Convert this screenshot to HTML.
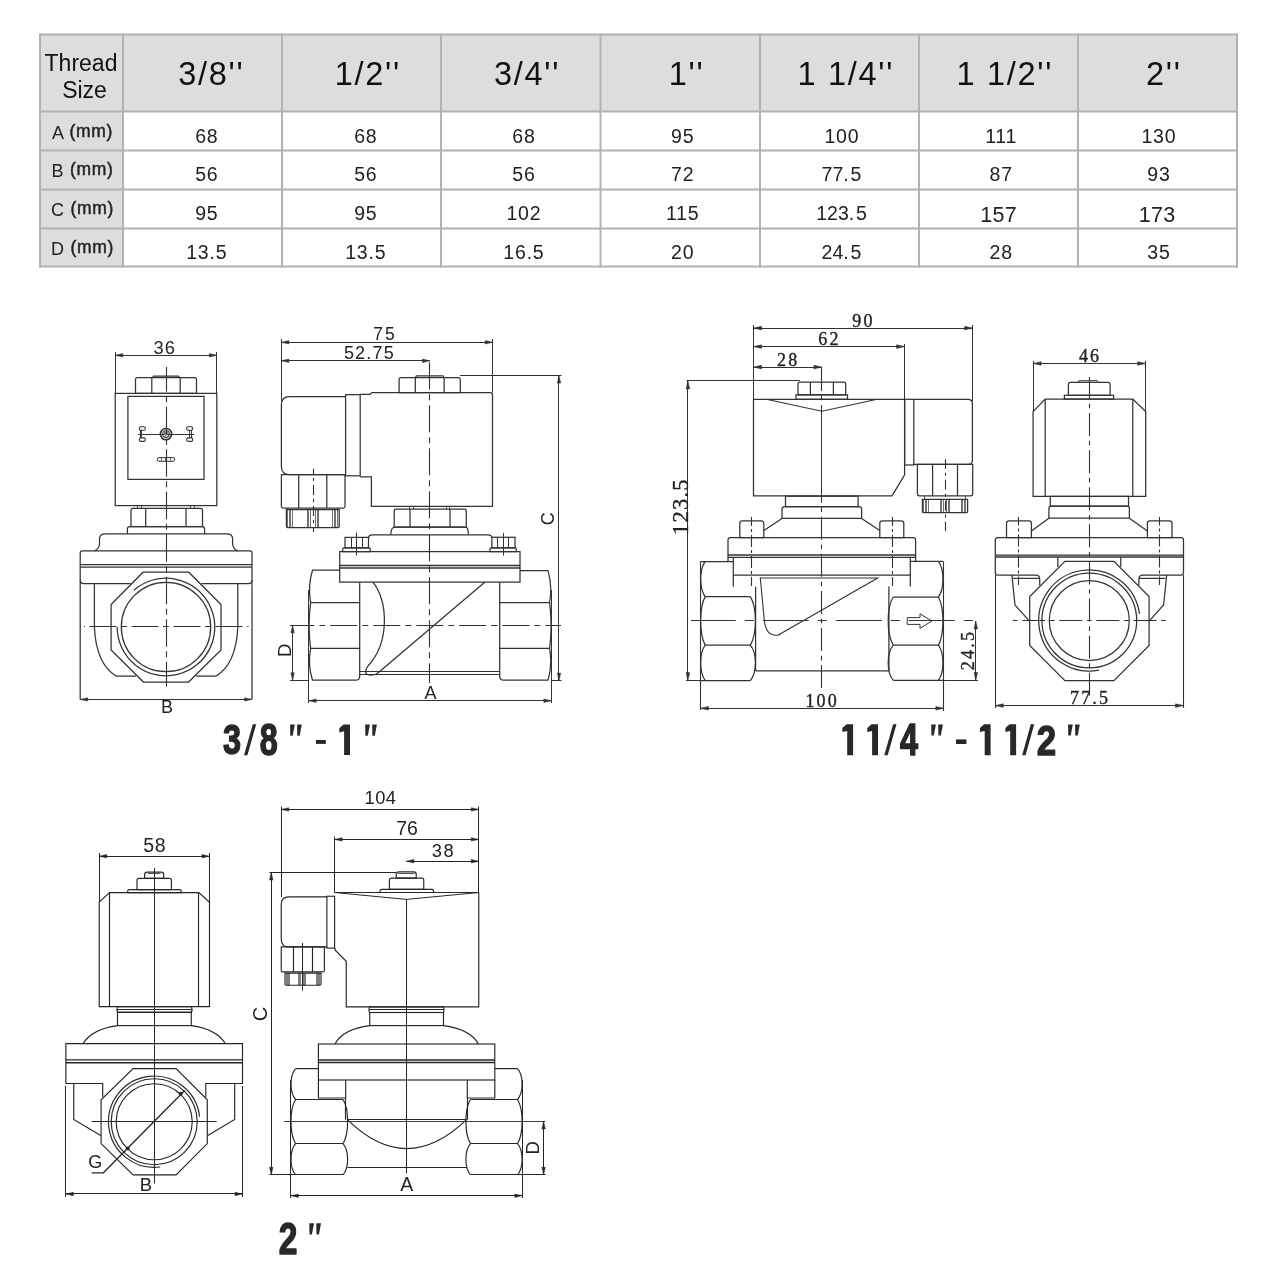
<!DOCTYPE html>
<html><head><meta charset="utf-8"><style>
html,body{margin:0;padding:0;background:#fff;width:1280px;height:1280px;overflow:hidden}
svg{display:block;font-family:"Liberation Sans",sans-serif;filter:grayscale(100%)}
</style></head><body>
<svg width="1280" height="1280" viewBox="0 0 1280 1280">
<rect width="1280" height="1280" fill="#fff"/>
<rect x="40" y="34.5" width="1197" height="77.0" fill="#dddddd"/>
<rect x="40" y="34.5" width="83" height="232.0" fill="#dddddd"/>
<line x1="39" y1="34.5" x2="1238" y2="34.5" stroke="#b2b2b2" stroke-width="2"/>
<line x1="39" y1="111.5" x2="1238" y2="111.5" stroke="#b2b2b2" stroke-width="2"/>
<line x1="39" y1="150.5" x2="1238" y2="150.5" stroke="#b2b2b2" stroke-width="2"/>
<line x1="39" y1="189.5" x2="1238" y2="189.5" stroke="#b2b2b2" stroke-width="2"/>
<line x1="39" y1="228.5" x2="1238" y2="228.5" stroke="#b2b2b2" stroke-width="2"/>
<line x1="39" y1="266.5" x2="1238" y2="266.5" stroke="#b2b2b2" stroke-width="2"/>
<line x1="40" y1="33.5" x2="40" y2="267.5" stroke="#b2b2b2" stroke-width="2"/>
<line x1="123" y1="33.5" x2="123" y2="267.5" stroke="#b2b2b2" stroke-width="2"/>
<line x1="282" y1="33.5" x2="282" y2="267.5" stroke="#b2b2b2" stroke-width="2"/>
<line x1="441" y1="33.5" x2="441" y2="267.5" stroke="#b2b2b2" stroke-width="2"/>
<line x1="600.5" y1="33.5" x2="600.5" y2="267.5" stroke="#b2b2b2" stroke-width="2"/>
<line x1="760" y1="33.5" x2="760" y2="267.5" stroke="#b2b2b2" stroke-width="2"/>
<line x1="919" y1="33.5" x2="919" y2="267.5" stroke="#b2b2b2" stroke-width="2"/>
<line x1="1078" y1="33.5" x2="1078" y2="267.5" stroke="#b2b2b2" stroke-width="2"/>
<line x1="1237" y1="33.5" x2="1237" y2="267.5" stroke="#b2b2b2" stroke-width="2"/>
<text x="81" y="70.6" font-size="23" text-anchor="middle" fill="#111">Thread</text>
<text x="84.5" y="97.5" font-size="23" text-anchor="middle" fill="#111">Size</text>
<text x="211.35" y="85.2" font-size="32.5" letter-spacing="1.7" text-anchor="middle" fill="#111">3/8&#39;&#39;</text>
<text x="367.85" y="85.2" font-size="32.5" letter-spacing="1.7" text-anchor="middle" fill="#111">1/2&#39;&#39;</text>
<text x="527.1" y="85.2" font-size="32.5" letter-spacing="1.7" text-anchor="middle" fill="#111">3/4&#39;&#39;</text>
<text x="686.6" y="85.2" font-size="32.5" letter-spacing="1.7" text-anchor="middle" fill="#111">1&#39;&#39;</text>
<text x="845.85" y="85.2" font-size="32.5" letter-spacing="1.7" text-anchor="middle" fill="#111">1 1/4&#39;&#39;</text>
<text x="1004.85" y="85.2" font-size="32.5" letter-spacing="1.7" text-anchor="middle" fill="#111">1 1/2&#39;&#39;</text>
<text x="1163.85" y="85.2" font-size="32.5" letter-spacing="1.7" text-anchor="middle" fill="#111">2&#39;&#39;</text>
<text x="82.5" y="138.9" font-size="18" letter-spacing="0.7" text-anchor="middle" fill="#222">A <tspan font-size="17.5" dy="-1.9" stroke="#222" stroke-width="0.45">(mm)</tspan></text>
<text x="206.8" y="143.1" font-size="19.5" letter-spacing="0.8" text-anchor="middle" fill="#222">68</text>
<text x="365.79999999999995" y="143.1" font-size="19.5" letter-spacing="0.8" text-anchor="middle" fill="#222">68</text>
<text x="523.9499999999999" y="143.1" font-size="19.5" letter-spacing="0.8" text-anchor="middle" fill="#222">68</text>
<text x="682.65" y="143.1" font-size="19.5" letter-spacing="0.8" text-anchor="middle" fill="#222">95</text>
<text x="841.9" y="143.1" font-size="19.5" letter-spacing="0.8" text-anchor="middle" fill="#222">100</text>
<text x="1001.1999999999999" y="143.1" font-size="19.5" letter-spacing="0.8" text-anchor="middle" fill="#222">111</text>
<text x="1158.9" y="143.1" font-size="19.5" letter-spacing="0.8" text-anchor="middle" fill="#222">130</text>
<text x="82.5" y="177.2" font-size="18" letter-spacing="0.7" text-anchor="middle" fill="#222">B <tspan font-size="17.5" dy="-1.9" stroke="#222" stroke-width="0.45">(mm)</tspan></text>
<text x="206.8" y="181.4" font-size="19.5" letter-spacing="0.8" text-anchor="middle" fill="#222">56</text>
<text x="365.79999999999995" y="181.4" font-size="19.5" letter-spacing="0.8" text-anchor="middle" fill="#222">56</text>
<text x="523.9499999999999" y="181.4" font-size="19.5" letter-spacing="0.8" text-anchor="middle" fill="#222">56</text>
<text x="682.65" y="181.4" font-size="19.5" letter-spacing="0.8" text-anchor="middle" fill="#222">72</text>
<text x="841.5" y="181.4" font-size="19.5" text-anchor="middle" fill="#222">77.<tspan dx="1.8">5</tspan></text>
<text x="1001.1999999999999" y="181.4" font-size="19.5" letter-spacing="0.8" text-anchor="middle" fill="#222">87</text>
<text x="1158.9" y="181.4" font-size="19.5" letter-spacing="0.8" text-anchor="middle" fill="#222">93</text>
<text x="82.5" y="216.3" font-size="18" letter-spacing="0.7" text-anchor="middle" fill="#222">C <tspan font-size="17.5" dy="-1.9" stroke="#222" stroke-width="0.45">(mm)</tspan></text>
<text x="206.8" y="220.0" font-size="19.5" letter-spacing="0.8" text-anchor="middle" fill="#222">95</text>
<text x="365.79999999999995" y="220.0" font-size="19.5" letter-spacing="0.8" text-anchor="middle" fill="#222">95</text>
<text x="523.9499999999999" y="220.0" font-size="19.5" letter-spacing="0.8" text-anchor="middle" fill="#222">102</text>
<text x="682.65" y="220.0" font-size="19.5" letter-spacing="0.8" text-anchor="middle" fill="#222">115</text>
<text x="841.5" y="220.0" font-size="19.5" text-anchor="middle" fill="#222">123.<tspan dx="1.8">5</tspan></text>
<text x="998.65" y="222.3" font-size="21.5" letter-spacing="0.3" text-anchor="middle" fill="#222">157</text>
<text x="1157.0500000000002" y="222.3" font-size="21.5" letter-spacing="0.3" text-anchor="middle" fill="#222">173</text>
<text x="82.5" y="254.7" font-size="18" letter-spacing="0.7" text-anchor="middle" fill="#222">D <tspan font-size="17.5" dy="-1.9" stroke="#222" stroke-width="0.45">(mm)</tspan></text>
<text x="206.8" y="258.6" font-size="19.5" letter-spacing="0.8" text-anchor="middle" fill="#222">13.5</text>
<text x="365.79999999999995" y="258.6" font-size="19.5" letter-spacing="0.8" text-anchor="middle" fill="#222">13.5</text>
<text x="523.9499999999999" y="258.6" font-size="19.5" letter-spacing="0.8" text-anchor="middle" fill="#222">16.5</text>
<text x="682.65" y="258.6" font-size="19.5" letter-spacing="0.8" text-anchor="middle" fill="#222">20</text>
<text x="841.5" y="258.6" font-size="19.5" text-anchor="middle" fill="#222">24.<tspan dx="1.8">5</tspan></text>
<text x="1001.1999999999999" y="258.6" font-size="19.5" letter-spacing="0.8" text-anchor="middle" fill="#222">28</text>
<text x="1158.9" y="258.6" font-size="19.5" letter-spacing="0.8" text-anchor="middle" fill="#222">35</text>
<line x1="115.5" y1="352" x2="115.5" y2="393.4" stroke="#333" stroke-width="1.0" />
<line x1="216.5" y1="352" x2="216.5" y2="393.4" stroke="#333" stroke-width="1.0" />
<line x1="115.2" y1="355.5" x2="216.8" y2="355.5" stroke="#333" stroke-width="1.0" />
<path d="M115.2,355.3 L122.7,353.6 L122.7,357 Z" fill="#333" stroke="#333" stroke-width="0.5"/>
<path d="M216.8,355.3 L209.3,357 L209.3,353.6 Z" fill="#333" stroke="#333" stroke-width="0.5"/>
<text x="164.8" y="354" font-size="18.3" text-anchor="middle" font-family="Liberation Sans" fill="#222" letter-spacing="1.2">36</text>
<rect x="115.2" y="393.4" width="101.6" height="112.2" rx="0" stroke="#333" stroke-width="1.25" fill="none"/>
<rect x="127.9" y="396.4" width="76.1" height="83" rx="0" stroke="#333" stroke-width="1.25" fill="none"/>
<path d="M135.5,393.4 V379.6 Q135.5,377.6 137.5,377.6 H194.5 Q196.5,377.6 196.5,379.6 V393.4 Z" stroke="#333" stroke-width="1.25" fill="none" />
<line x1="151.8" y1="377.6" x2="151.8" y2="393.4" stroke="#333" stroke-width="1.25" />
<line x1="180.2" y1="377.6" x2="180.2" y2="393.4" stroke="#333" stroke-width="1.25" />
<path d="M152.5,377.6 L153.5,376 H178.5 L179.5,377.6" stroke="#333" stroke-width="1.25" fill="none" />
<line x1="138.2" y1="434.5" x2="194" y2="434.5" stroke="#333" stroke-width="1.2" />
<circle cx="166" cy="434.1" r="5.6" stroke="#333" stroke-width="1.6" fill="none"/>
<circle cx="166" cy="434.1" r="3.3" stroke="#333" stroke-width="1.1" fill="none"/>
<circle cx="166" cy="433.6" r="2.2" fill="#777"/>
<rect x="139.4" y="426.8" width="5.9" height="3.4" rx="1.4" stroke="#333" stroke-width="1.1" fill="none"/>
<rect x="139.4" y="437.9" width="5.9" height="3.5" rx="1.4" stroke="#333" stroke-width="1.1" fill="none"/>
<rect x="186.7" y="426.8" width="5.9" height="3.4" rx="1.4" stroke="#333" stroke-width="1.1" fill="none"/>
<rect x="186.7" y="437.9" width="5.9" height="3.5" rx="1.4" stroke="#333" stroke-width="1.1" fill="none"/>
<line x1="140.5" y1="430" x2="140.5" y2="438" stroke="#333" stroke-width="1.1" />
<line x1="141.5" y1="430" x2="141.5" y2="438" stroke="#333" stroke-width="0.9" />
<line x1="191.5" y1="430" x2="191.5" y2="438" stroke="#333" stroke-width="1.1" />
<line x1="189.5" y1="430" x2="189.5" y2="438" stroke="#333" stroke-width="0.9" />
<rect x="157.4" y="457.6" width="17.2" height="3.7" rx="1.5" stroke="#333" stroke-width="1.0" fill="none"/>
<line x1="161.5" y1="457.6" x2="161.5" y2="461.3" stroke="#333" stroke-width="0.7" />
<line x1="165.5" y1="457.6" x2="165.5" y2="461.3" stroke="#333" stroke-width="0.7" />
<line x1="170.5" y1="457.6" x2="170.5" y2="461.3" stroke="#333" stroke-width="0.7" />
<line x1="137.5" y1="505.6" x2="137.5" y2="508.4" stroke="#333" stroke-width="0.8" />
<line x1="141.5" y1="505.6" x2="141.5" y2="508.4" stroke="#333" stroke-width="0.8" />
<line x1="190.5" y1="505.6" x2="190.5" y2="508.4" stroke="#333" stroke-width="0.8" />
<line x1="194.5" y1="505.6" x2="194.5" y2="508.4" stroke="#333" stroke-width="0.8" />
<path d="M131,526.7 V510.4 Q131,508.4 133,508.4 H200.5 Q202.5,508.4 202.5,510.4 V526.7 Z" stroke="#333" stroke-width="1.25" fill="none" />
<line x1="145.7" y1="508.4" x2="145.7" y2="526.7" stroke="#333" stroke-width="1.25" />
<line x1="186" y1="508.4" x2="186" y2="526.7" stroke="#333" stroke-width="1.25" />
<path d="M127.4,533.8 V529 Q127.4,526.7 129.7,526.7 H202.3 Q204.6,526.7 204.6,529 V533.8" stroke="#333" stroke-width="1.25" fill="none" />
<path d="M94.4,550.8 Q99.5,549 99.5,543 V539 Q99.5,533.8 105,533.8 H227 Q232.6,533.8 232.6,539 V543 Q232.6,549 237.8,550.8" stroke="#333" stroke-width="1.25" fill="none" />
<path d="M80.2,699.4 V553 Q80.2,550.8 82.4,550.8 H249.8 Q252,550.8 252,553 V699.4" stroke="#333" stroke-width="1.25" fill="none" />
<line x1="80.2" y1="564.7" x2="252" y2="564.7" stroke="#333" stroke-width="1.3" />
<line x1="80.2" y1="567.1" x2="252" y2="567.1" stroke="#333" stroke-width="1.3" />
<path d="M80.2,580 Q80.2,583.6 84,583.6 H130.6" stroke="#333" stroke-width="1.25" fill="none" />
<path d="M252,580 Q252,583.6 248.2,583.6 H201.4" stroke="#333" stroke-width="1.25" fill="none" />
<path d="M94.4,583.6 V627 Q96,664 116.3,676.2 H136" stroke="#333" stroke-width="1.25" fill="none" />
<path d="M237.8,583.6 V627 Q236.2,664 215.9,676.2 H196" stroke="#333" stroke-width="1.25" fill="none" />
<path d="M143,572.2 H188.8 L221,604.6 V650 L188.6,682 H143.4 L111.1,650 V604.6 Z" stroke="#333" stroke-width="1.25" fill="none" />
<circle cx="166" cy="627" r="44.7" stroke="#333" stroke-width="1.25" fill="none"/>
<path d="M133.79,590.34 A48.8,48.8 0 1 1 117.2,627" stroke="#333" stroke-width="1.25" fill="none" />
<line x1="84" y1="626.5" x2="248.5" y2="626.5" stroke="#333" stroke-width="1.1" stroke-dasharray="27,4.5,6,4.5" stroke-dashoffset="36.5"/>
<line x1="166.5" y1="367" x2="166.5" y2="686.5" stroke="#333" stroke-width="1.1" stroke-dasharray="27.5,4.5,6,4.5" stroke-dashoffset="2.7"/>
<line x1="80.2" y1="699.5" x2="252" y2="699.5" stroke="#333" stroke-width="1.0" />
<path d="M80.2,699.4 L87.7,697.7 L87.7,701.1 Z" fill="#333" stroke="#333" stroke-width="0.5"/>
<path d="M252,699.4 L244.5,701.1 L244.5,697.7 Z" fill="#333" stroke="#333" stroke-width="0.5"/>
<text x="167" y="713" font-size="18" text-anchor="middle" font-family="Liberation Sans" fill="#222" >B</text>
<line x1="281.5" y1="339" x2="281.5" y2="404" stroke="#333" stroke-width="1.0" />
<line x1="492.5" y1="339" x2="492.5" y2="392.5" stroke="#333" stroke-width="1.0" />
<line x1="281.4" y1="342.5" x2="492.7" y2="342.5" stroke="#333" stroke-width="1.0" />
<path d="M281.4,342.3 L288.9,340.6 L288.9,344 Z" fill="#333" stroke="#333" stroke-width="0.5"/>
<path d="M492.7,342.3 L485.2,344 L485.2,340.6 Z" fill="#333" stroke="#333" stroke-width="0.5"/>
<text x="384.9" y="340.1" font-size="17.5" text-anchor="middle" font-family="Liberation Sans" fill="#222" letter-spacing="1.8">75</text>
<line x1="281.4" y1="360.5" x2="430" y2="360.5" stroke="#333" stroke-width="1.0" />
<path d="M281.4,360.8 L288.9,359.1 L288.9,362.5 Z" fill="#333" stroke="#333" stroke-width="0.5"/>
<path d="M430,360.8 L422.5,362.5 L422.5,359.1 Z" fill="#333" stroke="#333" stroke-width="0.5"/>
<text x="369.4" y="358.9" font-size="18" text-anchor="middle" font-family="Liberation Sans" fill="#222" letter-spacing="1.2">52.75</text>
<line x1="460" y1="375.5" x2="561.5" y2="375.5" stroke="#333" stroke-width="1.0" />
<line x1="558.5" y1="375.6" x2="558.5" y2="680.6" stroke="#333" stroke-width="1.0" />
<path d="M559,375.6 L560.7,383.1 L557.3,383.1 Z" fill="#333" stroke="#333" stroke-width="0.5"/>
<path d="M559,680.6 L557.3,673.1 L560.7,673.1 Z" fill="#333" stroke="#333" stroke-width="0.5"/>
<line x1="551" y1="680.5" x2="561.5" y2="680.5" stroke="#333" stroke-width="1.0" />
<text x="553.8" y="518.7" font-size="18" text-anchor="middle" font-family="Liberation Sans" fill="#222" transform="rotate(-90 553.8 518.7)" >C</text>
<path d="M345.6,396.5 H289.6 Q281.4,396.5 281.4,404.7 V466.4 Q281.4,474.6 289.6,474.6 H345.6" stroke="#333" stroke-width="1.25" fill="none" />
<rect x="345.6" y="394.7" width="14.6" height="81.1" rx="0" stroke="#333" stroke-width="1.25" fill="none"/>
<path d="M360.2,394.3 H370 L372,392.6 H490.2 Q492.5,392.6 492.5,395 V506.3 H371.4 V476.9 H360.2" stroke="#333" stroke-width="1.25" fill="none" />
<path d="M399.1,392.6 V379.7 Q399.1,377.7 401.1,377.7 H458.3 Q460.3,377.7 460.3,379.7 V392.6 Z" stroke="#333" stroke-width="1.25" fill="none" />
<line x1="415.3" y1="377.7" x2="415.3" y2="392.6" stroke="#333" stroke-width="1.25" />
<line x1="444.1" y1="377.7" x2="444.1" y2="392.6" stroke="#333" stroke-width="1.25" />
<path d="M415.3,377.7 L416.3,375.9 H443.1 L444.1,377.7" stroke="#333" stroke-width="1.25" fill="none" />
<line x1="429.5" y1="360.8" x2="429.5" y2="683" stroke="#333" stroke-width="1.1" stroke-dasharray="27,5,6,5" stroke-dashoffset="41.6"/>
<path d="M281.4,474.6 V506.5 Q281.4,508 282.9,508 H343.5 Q345,508 345,506.5 V474.6 Z" stroke="#333" stroke-width="1.25" fill="none" />
<line x1="298.7" y1="474.6" x2="298.7" y2="508" stroke="#333" stroke-width="1.25" />
<line x1="326.8" y1="474.6" x2="326.8" y2="508" stroke="#333" stroke-width="1.25" />
<line x1="313.5" y1="468.8" x2="313.5" y2="532" stroke="#333" stroke-width="1.1" stroke-dasharray="10,4,3,4" stroke-dashoffset="4.9"/>
<path d="M286.4,509.5 V526.5 Q286.4,527.7 287.6,527.7 H338 Q339.2,527.7 339.2,526.5 V509.5 Z" stroke="#333" stroke-width="1.25" fill="none" />
<line x1="287.5" y1="509.5" x2="287.5" y2="527.7" stroke="#333" stroke-width="0.7" />
<line x1="289.5" y1="509.5" x2="289.5" y2="527.7" stroke="#333" stroke-width="0.7" />
<line x1="290.5" y1="509.5" x2="290.5" y2="527.7" stroke="#333" stroke-width="0.7" />
<line x1="292.5" y1="509.5" x2="292.5" y2="527.7" stroke="#333" stroke-width="0.7" />
<line x1="307.5" y1="509.5" x2="307.5" y2="527.7" stroke="#333" stroke-width="0.7" />
<line x1="308.5" y1="509.5" x2="308.5" y2="527.7" stroke="#333" stroke-width="0.7" />
<line x1="310.5" y1="509.5" x2="310.5" y2="527.7" stroke="#333" stroke-width="0.7" />
<line x1="315.5" y1="509.5" x2="315.5" y2="527.7" stroke="#333" stroke-width="0.7" />
<line x1="317.5" y1="509.5" x2="317.5" y2="527.7" stroke="#333" stroke-width="0.7" />
<line x1="318.5" y1="509.5" x2="318.5" y2="527.7" stroke="#333" stroke-width="0.7" />
<line x1="332.5" y1="509.5" x2="332.5" y2="527.7" stroke="#333" stroke-width="0.7" />
<line x1="334.5" y1="509.5" x2="334.5" y2="527.7" stroke="#333" stroke-width="0.7" />
<line x1="335.5" y1="509.5" x2="335.5" y2="527.7" stroke="#333" stroke-width="0.7" />
<line x1="337.5" y1="509.5" x2="337.5" y2="527.7" stroke="#333" stroke-width="0.7" />
<line x1="287.5" y1="508" x2="287.5" y2="509.5" stroke="#333" stroke-width="0.8" />
<line x1="337.5" y1="508" x2="337.5" y2="509.5" stroke="#333" stroke-width="0.8" />
<path d="M394.2,527.1 V511.2 Q394.2,509.2 396.2,509.2 H464.3 Q466.3,509.2 466.3,511.2 V527.1 Z" stroke="#333" stroke-width="1.25" fill="none" />
<line x1="410" y1="509.2" x2="410" y2="527.1" stroke="#333" stroke-width="1.25" />
<line x1="450" y1="509.2" x2="450" y2="527.1" stroke="#333" stroke-width="1.25" />
<line x1="409.5" y1="506.3" x2="409.5" y2="509.2" stroke="#333" stroke-width="0.8" />
<line x1="413.5" y1="506.3" x2="413.5" y2="509.2" stroke="#333" stroke-width="0.8" />
<line x1="446.5" y1="506.3" x2="446.5" y2="509.2" stroke="#333" stroke-width="0.8" />
<line x1="449.5" y1="506.3" x2="449.5" y2="509.2" stroke="#333" stroke-width="0.8" />
<path d="M390.7,534.8 Q391,527.5 394.5,527.1 H466 Q468.3,527.5 468.5,534.8" stroke="#333" stroke-width="1.25" fill="none" />
<path d="M368.5,537.4 Q369,534.8 372,534.8 H488.5 Q491.3,534.8 491.9,537.3" stroke="#333" stroke-width="1.25" fill="none" />
<rect x="345" y="537.4" width="23.5" height="10.5" rx="0" stroke="#333" stroke-width="1.25" fill="none"/>
<line x1="351.5" y1="537.4" x2="351.5" y2="547.9" stroke="#333" stroke-width="1.0" />
<line x1="362.5" y1="537.4" x2="362.5" y2="547.9" stroke="#333" stroke-width="1.0" />
<path d="M342.7,551.6 V549.1 Q342.7,547.9 343.9,547.9 H369 Q370.2,547.9 370.2,549.1 V551.6 Z" stroke="#333" stroke-width="1.25" fill="none" />
<rect x="491.9" y="537.3" width="23.1" height="10.5" rx="0" stroke="#333" stroke-width="1.25" fill="none"/>
<line x1="497.5" y1="537.3" x2="497.5" y2="547.8" stroke="#333" stroke-width="1.0" />
<line x1="508.5" y1="537.3" x2="508.5" y2="547.8" stroke="#333" stroke-width="1.0" />
<path d="M490,551.6 V549 Q490,547.8 491.2,547.8 H515.1 Q516.3,547.8 516.3,549 V551.6 Z" stroke="#333" stroke-width="1.25" fill="none" />
<line x1="356.5" y1="532.7" x2="356.5" y2="555.5" stroke="#333" stroke-width="1.0" />
<line x1="503.5" y1="533" x2="503.5" y2="555.5" stroke="#333" stroke-width="1.0" />
<rect x="339.7" y="551.6" width="180.3" height="30.5" rx="0" stroke="#333" stroke-width="1.25" fill="none"/>
<line x1="339.7" y1="565.6" x2="520" y2="565.6" stroke="#333" stroke-width="1.5" />
<line x1="339.7" y1="568.1" x2="520" y2="568.1" stroke="#333" stroke-width="1.5" />
<path d="M339.7,570.2 H312.5 Q307.6,586 310.6,602.7 Q307.6,625.5 310.6,648.3 Q307.6,665 312.5,680.2 H355.7 Q359.7,680.2 359.7,676.2 V582.1" stroke="#333" stroke-width="1.25" fill="none" />
<line x1="310.6" y1="602.7" x2="359.7" y2="602.7" stroke="#333" stroke-width="1.25" />
<line x1="310.6" y1="648.3" x2="359.7" y2="648.3" stroke="#333" stroke-width="1.25" />
<line x1="308.5" y1="590" x2="308.5" y2="703" stroke="#333" stroke-width="1.0" />
<path d="M520,570.6 H548 Q552.6,586 549.6,602.7 Q552.6,625.5 549.6,648.3 Q552.6,665 548,680.2 H503.7 Q499.7,680.2 499.7,676.2 V582.1" stroke="#333" stroke-width="1.25" fill="none" />
<line x1="499.7" y1="602.7" x2="549.6" y2="602.7" stroke="#333" stroke-width="1.25" />
<line x1="499.7" y1="648.3" x2="549.6" y2="648.3" stroke="#333" stroke-width="1.25" />
<line x1="551.5" y1="590" x2="551.5" y2="703" stroke="#333" stroke-width="1.0" />
<line x1="359.7" y1="671.5" x2="499.7" y2="671.5" stroke="#333" stroke-width="1.0" />
<line x1="359.7" y1="674.5" x2="499.7" y2="674.5" stroke="#333" stroke-width="1.0" />
<path d="M373,582.1 C388,602 390,642 368,666 Q362,675 371,675.2 Q375.5,675.2 378.5,672.5 L485,582.1" stroke="#333" stroke-width="1.25" fill="none" />
<line x1="290" y1="625.5" x2="561" y2="625.5" stroke="#333" stroke-width="1.1" stroke-dasharray="27,5,6,5" stroke-dashoffset="2.7"/>
<line x1="292.5" y1="625.3" x2="292.5" y2="680.3" stroke="#333" stroke-width="1.0" />
<path d="M292.6,625.3 L294.3,632.8 L290.9,632.8 Z" fill="#333" stroke="#333" stroke-width="0.5"/>
<path d="M292.6,680.3 L290.9,672.8 L294.3,672.8 Z" fill="#333" stroke="#333" stroke-width="0.5"/>
<line x1="290" y1="680.5" x2="308.7" y2="680.5" stroke="#333" stroke-width="1.0" />
<text x="291.2" y="650.3" font-size="18.5" text-anchor="middle" font-family="Liberation Sans" fill="#222" transform="rotate(-90 291.2 650.3)" >D</text>
<line x1="308.7" y1="700.5" x2="551.3" y2="700.5" stroke="#333" stroke-width="1.0" />
<path d="M308.7,700.7 L316.2,699 L316.2,702.4 Z" fill="#333" stroke="#333" stroke-width="0.5"/>
<path d="M551.3,700.7 L543.8,702.4 L543.8,699 Z" fill="#333" stroke="#333" stroke-width="0.5"/>
<text x="430.6" y="698.7" font-size="18" text-anchor="middle" font-family="Liberation Sans" fill="#222" >A</text>
<text transform="translate(223.04,754.48) scale(0.7622,1)" font-size="42.60" font-weight="bold" font-family="Liberation Sans" fill="#282828" stroke="#282828" stroke-width="1.44" stroke-linejoin="round">3</text>
<path d="M244,755.3 L252.8,724.3 H256.2 L247.4,755.3 Z" fill="#282828"/>
<text transform="translate(259.65,754.81) scale(0.7430,1)" font-size="43.50" font-weight="bold" font-family="Liberation Sans" fill="#282828" stroke="#282828" stroke-width="1.48" stroke-linejoin="round">8</text>
<path d="M290.1,724.6 H294.8 L292.7,735.8 H290.3 Z" fill="#282828"/>
<path d="M297.1,724.6 H301.8 L299.7,735.8 H297.3 Z" fill="#282828"/>
<rect x="315.9" y="740" width="9.9" height="3.9" fill="#282828"/>
<path d="M343.5,724.6 H350 V755.1 H344.1 V731.2 L339.3,732.4 V728.2 Z" fill="#282828"/>
<path d="M365.2,724.6 H369.9 L367.8,735.8 H365.4 Z" fill="#282828"/>
<path d="M372.2,724.6 H376.9 L374.8,735.8 H372.4 Z" fill="#282828"/>
<path d="M846.6,724.3 H853.1 V755.3 H847.2 V730.9 L842.4,732.1 V727.9 Z" fill="#282828"/>
<path d="M871.5,724.3 H878 V755.3 H872.1 V730.9 L867.3,732.1 V727.9 Z" fill="#282828"/>
<path d="M884.3,755.3 L893.1,724.3 H896.5 L887.7,755.3 Z" fill="#282828"/>
<text transform="translate(900.06,754.75) scale(0.7470,1)" font-size="43.46" font-weight="bold" font-family="Liberation Sans" fill="#282828" stroke="#282828" stroke-width="1.47" stroke-linejoin="round">4</text>
<path d="M931.2,724.4 H935.9 L933.8,735.6 H931.4 Z" fill="#282828"/>
<path d="M938.2,724.4 H942.9 L940.8,735.6 H938.4 Z" fill="#282828"/>
<rect x="956" y="739.4" width="10.4" height="4.6" fill="#282828"/>
<path d="M984.1,724.3 H990.6 V755.2 H984.7 V730.9 L979.9,732.1 V727.9 Z" fill="#282828"/>
<path d="M1009.6,724.3 H1016.1 V755.2 H1010.2 V730.9 L1005.4,732.1 V727.9 Z" fill="#282828"/>
<path d="M1022.2,755.2 L1030.8,724.3 H1034.2 L1025.6,755.2 Z" fill="#282828"/>
<text transform="translate(1036.86,754.65) scale(0.8114,1)" font-size="43.12" font-weight="bold" font-family="Liberation Sans" fill="#282828" stroke="#282828" stroke-width="1.36" stroke-linejoin="round">2</text>
<path d="M1068.1,724.4 H1072.8 L1070.7,735.5 H1068.3 Z" fill="#282828"/>
<path d="M1075.1,724.4 H1079.8 L1077.7,735.5 H1075.3 Z" fill="#282828"/>
<text transform="translate(278.71,1253.55) scale(0.7676,1)" font-size="43.70" font-weight="bold" font-family="Liberation Sans" fill="#282828" stroke="#282828" stroke-width="1.43" stroke-linejoin="round">2</text>
<path d="M309.3,1223.2 H314 L311.9,1234.5 H309.5 Z" fill="#282828"/>
<path d="M316.3,1223.2 H321 L318.9,1234.5 H316.5 Z" fill="#282828"/>
<line x1="753.5" y1="325" x2="753.5" y2="399.3" stroke="#333" stroke-width="1.0" />
<line x1="904.5" y1="344" x2="904.5" y2="399.3" stroke="#333" stroke-width="1.0" />
<line x1="972.5" y1="325" x2="972.5" y2="401" stroke="#333" stroke-width="1.0" />
<line x1="753.5" y1="328.5" x2="972.6" y2="328.5" stroke="#333" stroke-width="1.0" />
<path d="M753.5,328.1 L761.5,326.3 L761.5,329.9 Z" fill="#333" stroke="#333" stroke-width="0.5"/>
<path d="M972.6,328.1 L964.6,329.9 L964.6,326.3 Z" fill="#333" stroke="#333" stroke-width="0.5"/>
<text x="863.4" y="326.5" font-size="18" text-anchor="middle" font-family="Liberation Serif" fill="#222" letter-spacing="2.2" stroke="#222" stroke-width="0.35">90</text>
<line x1="753.5" y1="346.5" x2="904.6" y2="346.5" stroke="#333" stroke-width="1.0" />
<path d="M753.5,346.6 L761.5,344.8 L761.5,348.4 Z" fill="#333" stroke="#333" stroke-width="0.5"/>
<path d="M904.6,346.6 L896.6,348.4 L896.6,344.8 Z" fill="#333" stroke="#333" stroke-width="0.5"/>
<text x="829.5" y="345" font-size="18" text-anchor="middle" font-family="Liberation Serif" fill="#222" letter-spacing="2.2" stroke="#222" stroke-width="0.35">62</text>
<line x1="753.5" y1="367.5" x2="821.9" y2="367.5" stroke="#333" stroke-width="1.0" />
<path d="M753.5,367.1 L761.5,365.3 L761.5,368.9 Z" fill="#333" stroke="#333" stroke-width="0.5"/>
<path d="M821.9,367.1 L813.9,368.9 L813.9,365.3 Z" fill="#333" stroke="#333" stroke-width="0.5"/>
<text x="788.3" y="365.7" font-size="18" text-anchor="middle" font-family="Liberation Serif" fill="#222" letter-spacing="2.2" stroke="#222" stroke-width="0.35">28</text>
<line x1="686.5" y1="380.5" x2="800" y2="380.5" stroke="#333" stroke-width="1.0" />
<line x1="687.5" y1="380.9" x2="687.5" y2="680.6" stroke="#333" stroke-width="1.0" />
<path d="M687.9,380.9 L689.7,388.9 L686.1,388.9 Z" fill="#333" stroke="#333" stroke-width="0.5"/>
<path d="M687.9,680.6 L686.1,672.6 L689.7,672.6 Z" fill="#333" stroke="#333" stroke-width="0.5"/>
<line x1="686" y1="680.5" x2="700.5" y2="680.5" stroke="#333" stroke-width="1.0" />
<path d="M798,394.8 V384.2 Q798,382.2 800,382.2 H843.7 Q845.7,382.2 845.7,384.2 V394.8 Z" stroke="#333" stroke-width="1.25" fill="none" />
<line x1="810.4" y1="382.2" x2="810.4" y2="394.8" stroke="#333" stroke-width="1.25" />
<line x1="833.4" y1="382.2" x2="833.4" y2="394.8" stroke="#333" stroke-width="1.25" />
<rect x="796" y="394.8" width="51.5" height="4.5" rx="0" stroke="#333" stroke-width="1.25" fill="none"/>
<path d="M753.5,399.3 H904.6 V474.8 L892,495.8 H753.5 Z" stroke="#333" stroke-width="1.25" fill="none" />
<path d="M766.3,399.3 L821.9,411.2 L877.2,399.3" stroke="#333" stroke-width="1.1" fill="none" />
<rect x="904.6" y="399.3" width="9.2" height="65.7" rx="0" stroke="#333" stroke-width="1.25" fill="none"/>
<path d="M913.8,399.3 H968.2 Q972.4,399.3 972.4,403.5 V460.2 Q972.4,464.4 968.2,464.4 H913.8" stroke="#333" stroke-width="1.25" fill="none" />
<path d="M917.4,464.4 V493.8 Q917.4,495.8 919.4,495.8 H970.7 Q972.7,495.8 972.7,493.8 V464.4 Z" stroke="#333" stroke-width="1.25" fill="none" />
<line x1="932.6" y1="464.4" x2="932.6" y2="495.8" stroke="#333" stroke-width="1.25" />
<line x1="957.5" y1="464.4" x2="957.5" y2="495.8" stroke="#333" stroke-width="1.25" />
<path d="M922.4,499.4 V511.4 Q922.4,512.6 923.6,512.6 H966.4 Q967.6,512.6 967.6,511.4 V499.4 Z" stroke="#333" stroke-width="1.25" fill="none" />
<line x1="923.5" y1="499.4" x2="923.5" y2="512.6" stroke="#333" stroke-width="0.7" />
<line x1="925.5" y1="499.4" x2="925.5" y2="512.6" stroke="#333" stroke-width="0.7" />
<line x1="926.5" y1="499.4" x2="926.5" y2="512.6" stroke="#333" stroke-width="0.7" />
<line x1="928.5" y1="499.4" x2="928.5" y2="512.6" stroke="#333" stroke-width="0.7" />
<line x1="940.5" y1="499.4" x2="940.5" y2="512.6" stroke="#333" stroke-width="0.7" />
<line x1="941.5" y1="499.4" x2="941.5" y2="512.6" stroke="#333" stroke-width="0.7" />
<line x1="943.5" y1="499.4" x2="943.5" y2="512.6" stroke="#333" stroke-width="0.7" />
<line x1="946.5" y1="499.4" x2="946.5" y2="512.6" stroke="#333" stroke-width="0.7" />
<line x1="948.5" y1="499.4" x2="948.5" y2="512.6" stroke="#333" stroke-width="0.7" />
<line x1="949.5" y1="499.4" x2="949.5" y2="512.6" stroke="#333" stroke-width="0.7" />
<line x1="961.5" y1="499.4" x2="961.5" y2="512.6" stroke="#333" stroke-width="0.7" />
<line x1="962.5" y1="499.4" x2="962.5" y2="512.6" stroke="#333" stroke-width="0.7" />
<line x1="964.5" y1="499.4" x2="964.5" y2="512.6" stroke="#333" stroke-width="0.7" />
<line x1="965.5" y1="499.4" x2="965.5" y2="512.6" stroke="#333" stroke-width="0.7" />
<line x1="924.5" y1="495.8" x2="924.5" y2="499.4" stroke="#333" stroke-width="0.8" />
<line x1="965.5" y1="495.8" x2="965.5" y2="499.4" stroke="#333" stroke-width="0.8" />
<line x1="945.5" y1="459.3" x2="945.5" y2="531" stroke="#333" stroke-width="1.1" stroke-dasharray="10,4,3,4" stroke-dashoffset="0.65"/>
<rect x="785.5" y="496.2" width="72.6" height="10.5" rx="0" stroke="#333" stroke-width="1.25" fill="none"/>
<path d="M782,518.4 V509.2 Q782,506.7 784.5,506.7 H859.1 Q861.6,506.7 861.6,509.2 V518.4 Z" stroke="#333" stroke-width="1.25" fill="none" />
<line x1="782" y1="518.4" x2="763.8" y2="530.4" stroke="#333" stroke-width="1.25" />
<line x1="861.6" y1="518.4" x2="879.8" y2="530.4" stroke="#333" stroke-width="1.25" />
<path d="M739.8,537.6 V523.3 Q739.8,520.8 742.3,520.8 H761.3 Q763.8,520.8 763.8,523.3 V537.6 Z" stroke="#333" stroke-width="1.25" fill="none" />
<path d="M879.8,537.6 V523.3 Q879.8,520.8 882.3,520.8 H901.3 Q903.8,520.8 903.8,523.3 V537.6 Z" stroke="#333" stroke-width="1.25" fill="none" />
<line x1="751.5" y1="517" x2="751.5" y2="586" stroke="#333" stroke-width="1.1" stroke-dasharray="12,3,3,3" stroke-dashoffset="3"/>
<line x1="892.5" y1="517" x2="892.5" y2="586" stroke="#333" stroke-width="1.1" stroke-dasharray="12,3,3,3" stroke-dashoffset="3"/>
<path d="M728,560.9 V540 Q728,537.6 730.4,537.6 H913.2 Q915.6,537.6 915.6,540 V560.9" stroke="#333" stroke-width="1.25" fill="none" />
<line x1="728" y1="555" x2="915.6" y2="555" stroke="#333" stroke-width="1.3" />
<line x1="728" y1="557.3" x2="915.6" y2="557.3" stroke="#333" stroke-width="1.3" />
<path d="M733.3,586.7 V557.3" stroke="#333" stroke-width="1.25" fill="none" />
<path d="M910.3,586.4 V557.3" stroke="#333" stroke-width="1.25" fill="none" />
<line x1="733.3" y1="575" x2="910.3" y2="575" stroke="#333" stroke-width="1.25" />
<line x1="700.5" y1="561.5" x2="700.5" y2="710" stroke="#333" stroke-width="1.1" />
<path d="M700.5,561.5 H733.3" stroke="#333" stroke-width="1.25" fill="none" />
<path d="M705.2,561.5 C699.20,569.22 699.20,588.88 705.2,596.6 C699.20,607.27 699.20,634.43 705.2,645.1 C699.20,652.91 699.20,672.79 705.2,680.6" stroke="#333" stroke-width="1.25" fill="none" />
<path d="M750.3,596.6 C757.10,607.27 757.10,634.43 750.3,645.1 C757.10,652.91 757.10,672.79 750.3,680.6" stroke="#333" stroke-width="1.25" fill="none" />
<line x1="705.2" y1="596.6" x2="750.3" y2="596.6" stroke="#333" stroke-width="1.25" />
<line x1="705.2" y1="645.1" x2="750.3" y2="645.1" stroke="#333" stroke-width="1.25" />
<line x1="700.5" y1="680.6" x2="750.3" y2="680.6" stroke="#333" stroke-width="1.25" />
<line x1="755.6" y1="586.7" x2="755.6" y2="670.9" stroke="#333" stroke-width="1.25" />
<line x1="943.5" y1="561.4" x2="943.5" y2="711" stroke="#333" stroke-width="1.1" />
<path d="M910.3,561.4 H943.1" stroke="#333" stroke-width="1.25" fill="none" />
<path d="M938.4,561.4 C944.40,569.23 944.40,589.17 938.4,597 C944.40,607.60 944.40,634.60 938.4,645.2 C944.40,652.94 944.40,672.66 938.4,680.4" stroke="#333" stroke-width="1.25" fill="none" />
<path d="M893.3,597 C886.50,607.60 886.50,634.60 893.3,645.2 C886.50,652.94 886.50,672.66 893.3,680.4" stroke="#333" stroke-width="1.25" fill="none" />
<line x1="893.3" y1="597" x2="938.4" y2="597" stroke="#333" stroke-width="1.25" />
<line x1="893.3" y1="645.2" x2="938.4" y2="645.2" stroke="#333" stroke-width="1.25" />
<line x1="893.3" y1="680.4" x2="943.1" y2="680.4" stroke="#333" stroke-width="1.25" />
<line x1="888.9" y1="586.4" x2="888.9" y2="670.8" stroke="#333" stroke-width="1.25" />
<line x1="755.6" y1="670.9" x2="888.9" y2="670.9" stroke="#333" stroke-width="1.25" />
<path d="M877.7,578 H760.3 L764.4,621 Q766,636 777.3,635.2 Q779.5,635 781,633.5 Z" stroke="#333" stroke-width="1.1" fill="none" />
<path d="M907.2,617.6 H920 V613.8 L931.8,621 L920,628.4 V624.4 H907.2 Z" stroke="#333" stroke-width="1.0" fill="none" />
<line x1="691" y1="620.5" x2="978" y2="620.5" stroke="#333" stroke-width="1.1" stroke-dasharray="46,9,9,9" stroke-dashoffset="1.2"/>
<line x1="821.5" y1="368" x2="821.5" y2="411" stroke="#333" stroke-width="1.1" stroke-dasharray="23,4.7,4.7,4.7" stroke-dashoffset="0.05"/>
<line x1="821.5" y1="411" x2="821.5" y2="496" stroke="#333" stroke-width="1.0" />
<line x1="821.5" y1="496" x2="821.5" y2="688" stroke="#333" stroke-width="1.1" stroke-dasharray="23,4.7,4.7,4.7" stroke-dashoffset="16.35"/>
<line x1="975.5" y1="621" x2="975.5" y2="680.4" stroke="#333" stroke-width="1.0" />
<path d="M975.8,621 L977.6,629 L974,629 Z" fill="#333" stroke="#333" stroke-width="0.5"/>
<path d="M975.8,680.4 L974,672.4 L977.6,672.4 Z" fill="#333" stroke="#333" stroke-width="0.5"/>
<line x1="943" y1="680.5" x2="978" y2="680.5" stroke="#333" stroke-width="1.0" />
<text x="974" y="650" font-size="18" text-anchor="middle" font-family="Liberation Serif" fill="#222" transform="rotate(-90 974 650)" letter-spacing="2.2" stroke="#222" stroke-width="0.35">24.5</text>
<line x1="700.5" y1="708.5" x2="943.8" y2="708.5" stroke="#333" stroke-width="1.0" />
<path d="M700.5,708.3 L708.5,706.5 L708.5,710.1 Z" fill="#333" stroke="#333" stroke-width="0.5"/>
<path d="M943.8,708.3 L935.8,710.1 L935.8,706.5 Z" fill="#333" stroke="#333" stroke-width="0.5"/>
<text x="822.2" y="706.6" font-size="18" text-anchor="middle" font-family="Liberation Serif" fill="#222" letter-spacing="2.2" stroke="#222" stroke-width="0.35">100</text>
<text x="687.6" y="506.6" font-size="22.5" text-anchor="middle" font-family="Liberation Serif" fill="#222" transform="rotate(-90 687.6 506.6)" letter-spacing="1.2" stroke="#222" stroke-width="0.35">123.5</text>
<line x1="1033.5" y1="361" x2="1033.5" y2="411.6" stroke="#333" stroke-width="1.0" />
<line x1="1145.5" y1="361" x2="1145.5" y2="411.6" stroke="#333" stroke-width="1.0" />
<line x1="1033.1" y1="363.5" x2="1145.7" y2="363.5" stroke="#333" stroke-width="1.0" />
<path d="M1033.1,363.5 L1041.1,361.7 L1041.1,365.3 Z" fill="#333" stroke="#333" stroke-width="0.5"/>
<path d="M1145.7,363.5 L1137.7,365.3 L1137.7,361.7 Z" fill="#333" stroke="#333" stroke-width="0.5"/>
<text x="1090.1" y="361.5" font-size="18" text-anchor="middle" font-family="Liberation Serif" fill="#222" letter-spacing="2.2" stroke="#222" stroke-width="0.35">46</text>
<path d="M1033.1,411.6 L1045.2,399.1 H1132.8 L1145.7,411.6 V496.4 H1033.1 Z" stroke="#333" stroke-width="1.25" fill="none" />
<line x1="1045.2" y1="399.1" x2="1045.2" y2="496.4" stroke="#333" stroke-width="1.25" />
<line x1="1132.8" y1="399.1" x2="1132.8" y2="496.4" stroke="#333" stroke-width="1.25" />
<path d="M1068.4,395.3 V384.4 Q1068.4,382.4 1070.4,382.4 H1108.1 Q1110.1,382.4 1110.1,384.4 V395.3 Z" stroke="#333" stroke-width="1.25" fill="none" />
<path d="M1077.8,382.4 L1078.8,380.7 H1097.4 L1098.4,382.4" stroke="#333" stroke-width="1.0" fill="none" />
<rect x="1064.4" y="395.3" width="49.2" height="3.8" rx="0" stroke="#333" stroke-width="1.25" fill="none"/>
<line x1="1089.5" y1="377" x2="1089.5" y2="700" stroke="#333" stroke-width="1.1" stroke-dasharray="23,4.7,4.7,4.7" stroke-dashoffset="1.05"/>
<rect x="1050.3" y="496.4" width="78.2" height="9.8" rx="0" stroke="#333" stroke-width="1.25" fill="none"/>
<path d="M1048.9,518.2 V508.7 Q1048.9,506.2 1051.4,506.2 H1126.9 Q1129.4,506.2 1129.4,508.7 V518.2 Z" stroke="#333" stroke-width="1.25" fill="none" />
<line x1="1048.9" y1="518.2" x2="1031.4" y2="531.1" stroke="#333" stroke-width="1.25" />
<line x1="1129.4" y1="518.2" x2="1147.4" y2="531.1" stroke="#333" stroke-width="1.25" />
<path d="M1006.5,537.6 V523.3 Q1006.5,520.8 1009,520.8 H1028.9 Q1031.4,520.8 1031.4,523.3 V537.6 Z" stroke="#333" stroke-width="1.25" fill="none" />
<path d="M1147.4,537.6 V523.3 Q1147.4,520.8 1149.9,520.8 H1169.5 Q1172,520.8 1172,523.3 V537.6 Z" stroke="#333" stroke-width="1.25" fill="none" />
<line x1="1018.5" y1="517" x2="1018.5" y2="585" stroke="#333" stroke-width="1.1" stroke-dasharray="12,3,3,3" stroke-dashoffset="3.5"/>
<line x1="1159.5" y1="517" x2="1159.5" y2="585" stroke="#333" stroke-width="1.1" stroke-dasharray="12,3,3,3" stroke-dashoffset="3.5"/>
<path d="M997.8,575 Q995.3,575 995.3,572.5 V540 Q995.3,537.5 997.8,537.5 H1181 Q1183.5,537.5 1183.5,540 V572.5 Q1183.5,575 1181,575" stroke="#333" stroke-width="1.25" fill="none" />
<line x1="995.3" y1="555.2" x2="1183.5" y2="555.2" stroke="#333" stroke-width="1.3" />
<line x1="995.3" y1="557" x2="1183.5" y2="557" stroke="#333" stroke-width="1.3" />
<line x1="995.5" y1="575" x2="995.5" y2="708" stroke="#333" stroke-width="1.1" />
<line x1="1183.5" y1="575" x2="1183.5" y2="708" stroke="#333" stroke-width="1.1" />
<path d="M997.8,575 H1035.6 Q1039.7,575 1039.7,579 V585.5" stroke="#333" stroke-width="1.25" fill="none" />
<path d="M1181,575 H1143 Q1138.9,575 1138.9,579 V585.5" stroke="#333" stroke-width="1.25" fill="none" />
<line x1="1013.1" y1="578.4" x2="1039.7" y2="578.4" stroke="#333" stroke-width="1.25" />
<line x1="1165.5" y1="578.4" x2="1138.9" y2="578.4" stroke="#333" stroke-width="1.25" />
<path d="M1011.9,575 L1015,605 L1029.7,621.3" stroke="#333" stroke-width="1.25" fill="none" />
<path d="M1166.7,575 L1163.6,605 L1148.9,621.3" stroke="#333" stroke-width="1.25" fill="none" />
<line x1="1057.8" y1="557" x2="1057.8" y2="566.9" stroke="#333" stroke-width="1.25" />
<line x1="1120.8" y1="557" x2="1120.8" y2="566.9" stroke="#333" stroke-width="1.25" />
<path d="M1064.9,561.3 H1113.9 L1149.1,596.5 V645.5 L1113.9,680.7 H1064.9 L1029.7,645.5 V596.5 Z" stroke="#333" stroke-width="1.25" fill="none" />
<circle cx="1089.3" cy="620.5" r="40" stroke="#333" stroke-width="1.25" fill="none"/>
<circle cx="1089.3" cy="620.5" r="47.4" stroke="#333" stroke-width="1.25" fill="none"/>
<path d="M1139.46,613.81 A50.6,50.6 0 1 0 1099.13,670.14" stroke="#333" stroke-width="1.25" fill="none" />
<line x1="1011.6" y1="620.5" x2="1167.2" y2="620.5" stroke="#333" stroke-width="1.1" stroke-dasharray="23,4.7,4.7,4.7" stroke-dashoffset="26.55"/>
<line x1="995.3" y1="705.5" x2="1183.5" y2="705.5" stroke="#333" stroke-width="1.0" />
<path d="M995.3,705.6 L1003.3,703.8 L1003.3,707.4 Z" fill="#333" stroke="#333" stroke-width="0.5"/>
<path d="M1183.5,705.6 L1175.5,707.4 L1175.5,703.8 Z" fill="#333" stroke="#333" stroke-width="0.5"/>
<text x="1090.1" y="703.8" font-size="18" text-anchor="middle" font-family="Liberation Serif" fill="#222" letter-spacing="2.2" stroke="#222" stroke-width="0.35">77.5</text>
<line x1="99.5" y1="853" x2="99.5" y2="902.2" stroke="#262626" stroke-width="1.0" />
<line x1="209.5" y1="853" x2="209.5" y2="902.2" stroke="#262626" stroke-width="1.0" />
<line x1="99.2" y1="856.5" x2="209.5" y2="856.5" stroke="#262626" stroke-width="1.0" />
<path d="M99.2,856.2 L106.7,854.5 L106.7,857.9 Z" fill="#262626" stroke="#262626" stroke-width="0.5"/>
<path d="M209.5,856.2 L202,857.9 L202,854.5 Z" fill="#262626" stroke="#262626" stroke-width="0.5"/>
<text x="154.7" y="852.2" font-size="19.5" text-anchor="middle" font-family="Liberation Sans" fill="#222" letter-spacing="0.5">58</text>
<path d="M99.2,902.2 L109.6,892.6 H198.9 L209.5,902.2 V1006.6 H99.2 Z" stroke="#262626" stroke-width="1.15" fill="none" />
<line x1="109.5" y1="892.6" x2="109.5" y2="1006.6" stroke="#262626" stroke-width="1.15" />
<line x1="198.5" y1="892.6" x2="198.5" y2="1006.6" stroke="#262626" stroke-width="1.15" />
<path d="M127.7,892.6 V891.1 Q127.7,889.6 129.2,889.6 H179.7 Q181.2,889.6 181.2,891.1 V892.6 Z" stroke="#262626" stroke-width="1.15" fill="none" />
<path d="M137,889.6 V880.3 Q137,878.3 139,878.3 H169.4 Q171.4,878.3 171.4,880.3 V889.6 Z" stroke="#262626" stroke-width="1.15" fill="none" />
<path d="M144.6,878.3 V874.6 Q144.6,872.1 147.1,872.1 H161.2 Q163.7,872.1 163.7,874.6 V878.3 Z" stroke="#262626" stroke-width="1.15" fill="none" />
<line x1="148" y1="873.5" x2="160.5" y2="873.5" stroke="#262626" stroke-width="0.8" />
<line x1="154.5" y1="868" x2="154.5" y2="1183.4" stroke="#262626" stroke-width="1.0" />
<path d="M117.5,1006.6 H191.5 Q192.6,1009.4 191.5,1012.3 H117.5 Q116.4,1009.4 117.5,1006.6 Z" stroke="#262626" stroke-width="1.15" fill="none" />
<line x1="117" y1="1009.5" x2="192" y2="1009.5" stroke="#262626" stroke-width="1.2" />
<rect x="117.5" y="1012.3" width="73.75" height="13.3" rx="0" stroke="#262626" stroke-width="1.15" fill="none"/>
<path d="M117.5,1025.6 Q92,1029 83.1,1043.6" stroke="#262626" stroke-width="1.15" fill="none" />
<path d="M191.25,1025.6 Q216.5,1029 225.3,1043.6" stroke="#262626" stroke-width="1.15" fill="none" />
<path d="M102.7,1096.9 V1083.5 H65.9 V1043.6 H242.5 V1083.5 H205.8 V1096.9" stroke="#262626" stroke-width="1.15" fill="none" />
<line x1="65.9" y1="1059.9" x2="242.5" y2="1059.9" stroke="#262626" stroke-width="1.4" />
<line x1="65.9" y1="1062.8" x2="242.5" y2="1062.8" stroke="#262626" stroke-width="1.4" />
<line x1="65.5" y1="1085.8" x2="65.5" y2="1197" stroke="#262626" stroke-width="1.0" />
<line x1="242.5" y1="1085.8" x2="242.5" y2="1197" stroke="#262626" stroke-width="1.0" />
<path d="M73.75,1083.5 V1119.4 L101.1,1135.8" stroke="#262626" stroke-width="1.15" fill="none" />
<path d="M234.7,1083.5 V1119.4 L207.3,1135.8" stroke="#262626" stroke-width="1.15" fill="none" />
<path d="M133.1,1068.6 H176.1 L207.3,1099.8 V1143.6 L176.1,1174.8 H133.1 L101.1,1143.6 V1099.8 Z" stroke="#262626" stroke-width="1.15" fill="none" />
<circle cx="154.2" cy="1121.7" r="38" stroke="#262626" stroke-width="1.15" fill="none"/>
<circle cx="154.2" cy="1121.7" r="43" stroke="#262626" stroke-width="1.15" fill="none"/>
<path d="M199.62,1116.69 A45.7,45.7 0 1 0 160.24,1167" stroke="#262626" stroke-width="1.15" fill="none" />
<line x1="91.7" y1="1121.5" x2="216.7" y2="1121.5" stroke="#262626" stroke-width="1.0" />
<path d="M184.7,1090.5 L103.4,1172.8 H91.7" stroke="#262626" stroke-width="1.25" fill="none" />
<circle cx="180.8" cy="1093.6" r="1.9" fill="#222"/>
<circle cx="127.7" cy="1148.3" r="1.9" fill="#222"/>
<text x="95.3" y="1167.8" font-size="18" text-anchor="middle" font-family="Liberation Sans" fill="#222" >G</text>
<text x="146" y="1191" font-size="18.5" text-anchor="middle" font-family="Liberation Sans" fill="#222" >B</text>
<line x1="65.9" y1="1193.5" x2="242.5" y2="1193.5" stroke="#262626" stroke-width="1.0" />
<path d="M65.9,1194 L73.4,1192.3 L73.4,1195.7 Z" fill="#262626" stroke="#262626" stroke-width="0.5"/>
<path d="M242.5,1194 L235,1195.7 L235,1192.3 Z" fill="#262626" stroke="#262626" stroke-width="0.5"/>
<line x1="281.5" y1="806.5" x2="281.5" y2="897" stroke="#262626" stroke-width="1.0" />
<line x1="478.5" y1="806.5" x2="478.5" y2="892.5" stroke="#262626" stroke-width="1.0" />
<line x1="334.5" y1="836.5" x2="334.5" y2="892.5" stroke="#262626" stroke-width="1.0" />
<line x1="281.25" y1="809.5" x2="478.75" y2="809.5" stroke="#262626" stroke-width="1.0" />
<path d="M281.25,809.4 L288.75,807.7 L288.75,811.1 Z" fill="#262626" stroke="#262626" stroke-width="0.5"/>
<path d="M478.75,809.4 L471.25,811.1 L471.25,807.7 Z" fill="#262626" stroke="#262626" stroke-width="0.5"/>
<text x="380.5" y="804.4" font-size="18.3" text-anchor="middle" font-family="Liberation Sans" fill="#222" letter-spacing="0.5">104</text>
<line x1="334.6" y1="839.5" x2="478.75" y2="839.5" stroke="#262626" stroke-width="1.0" />
<path d="M334.6,839.4 L342.1,837.7 L342.1,841.1 Z" fill="#262626" stroke="#262626" stroke-width="0.5"/>
<path d="M478.75,839.4 L471.25,841.1 L471.25,837.7 Z" fill="#262626" stroke="#262626" stroke-width="0.5"/>
<text x="407" y="835.2" font-size="19.5" text-anchor="middle" font-family="Liberation Sans" fill="#222" >76</text>
<line x1="406.4" y1="861.5" x2="478.75" y2="861.5" stroke="#262626" stroke-width="1.0" />
<path d="M406.4,861.2 L413.9,859.5 L413.9,862.9 Z" fill="#262626" stroke="#262626" stroke-width="0.5"/>
<path d="M478.75,861.2 L471.25,862.9 L471.25,859.5 Z" fill="#262626" stroke="#262626" stroke-width="0.5"/>
<text x="443.4" y="856.9" font-size="18.3" text-anchor="middle" font-family="Liberation Sans" fill="#222" letter-spacing="1.5">38</text>
<line x1="269.4" y1="872.5" x2="396" y2="872.5" stroke="#262626" stroke-width="1.0" />
<line x1="271.5" y1="872.5" x2="271.5" y2="1174.8" stroke="#262626" stroke-width="1.0" />
<path d="M271.25,872.5 L272.95,880 L269.55,880 Z" fill="#262626" stroke="#262626" stroke-width="0.5"/>
<path d="M271.25,1174.8 L269.55,1167.3 L272.95,1167.3 Z" fill="#262626" stroke="#262626" stroke-width="0.5"/>
<line x1="269.3" y1="1174.5" x2="291.9" y2="1174.5" stroke="#262626" stroke-width="1.0" />
<path d="M326.9,896.9 H289 Q281.25,896.9 281.25,904.6 V939.2 Q281.25,946.9 289,946.9 H326.9" stroke="#262626" stroke-width="1.15" fill="none" />
<rect x="326.9" y="896.25" width="7.7" height="51.85" rx="0" stroke="#262626" stroke-width="1.15" fill="none"/>
<path d="M281.25,946.9 V970.4 Q281.25,971.9 282.75,971.9 H322.9 Q324.4,971.9 324.4,970.4 V946.9 Z" stroke="#262626" stroke-width="1.15" fill="none" />
<line x1="293.5" y1="946.9" x2="293.5" y2="971.9" stroke="#262626" stroke-width="1.15" />
<line x1="312.5" y1="946.9" x2="312.5" y2="971.9" stroke="#262626" stroke-width="1.15" />
<path d="M285,973.1 V984.05 Q285,985.25 286.2,985.25 H319.8 Q321,985.25 321,984.05 V973.1 Z" stroke="#262626" stroke-width="1.15" fill="none" />
<line x1="286.5" y1="973.1" x2="286.5" y2="985.25" stroke="#262626" stroke-width="0.6" />
<line x1="287.5" y1="973.1" x2="287.5" y2="985.25" stroke="#262626" stroke-width="0.6" />
<line x1="288.5" y1="973.1" x2="288.5" y2="985.25" stroke="#262626" stroke-width="0.6" />
<line x1="289.5" y1="973.1" x2="289.5" y2="985.25" stroke="#262626" stroke-width="0.6" />
<line x1="298.5" y1="973.1" x2="298.5" y2="985.25" stroke="#262626" stroke-width="0.6" />
<line x1="299.5" y1="973.1" x2="299.5" y2="985.25" stroke="#262626" stroke-width="0.6" />
<line x1="300.5" y1="973.1" x2="300.5" y2="985.25" stroke="#262626" stroke-width="0.6" />
<line x1="302.5" y1="973.1" x2="302.5" y2="985.25" stroke="#262626" stroke-width="0.6" />
<line x1="303.5" y1="973.1" x2="303.5" y2="985.25" stroke="#262626" stroke-width="0.6" />
<line x1="304.5" y1="973.1" x2="304.5" y2="985.25" stroke="#262626" stroke-width="0.6" />
<line x1="305.5" y1="973.1" x2="305.5" y2="985.25" stroke="#262626" stroke-width="0.6" />
<line x1="316.5" y1="973.1" x2="316.5" y2="985.25" stroke="#262626" stroke-width="0.6" />
<line x1="317.5" y1="973.1" x2="317.5" y2="985.25" stroke="#262626" stroke-width="0.6" />
<line x1="318.5" y1="973.1" x2="318.5" y2="985.25" stroke="#262626" stroke-width="0.6" />
<line x1="319.5" y1="973.1" x2="319.5" y2="985.25" stroke="#262626" stroke-width="0.6" />
<line x1="302.5" y1="943" x2="302.5" y2="990.6" stroke="#262626" stroke-width="1.0" />
<path d="M334.6,892.5 H478.75 V1006.9 H346.25 V961.25 L335,950 V948.1" stroke="#262626" stroke-width="1.15" fill="none" />
<path d="M334.6,892.5 L406.4,899.4 L478.75,892.5" stroke="#262626" stroke-width="1.0" fill="none" />
<line x1="406.5" y1="899.4" x2="406.5" y2="1173.5" stroke="#262626" stroke-width="1.0" />
<path d="M396.25,878.1 V874.4 Q396.25,871.9 398.75,871.9 H413.75 Q416.25,871.9 416.25,874.4 V878.1 Z" stroke="#262626" stroke-width="1.15" fill="none" />
<path d="M389.4,889.4 V880.1 Q389.4,878.1 391.4,878.1 H421.75 Q423.75,878.1 423.75,880.1 V889.4 Z" stroke="#262626" stroke-width="1.15" fill="none" />
<path d="M380,892.5 V890.9 Q380,889.4 381.5,889.4 H432 Q433.5,889.4 433.5,890.9 V892.5 Z" stroke="#262626" stroke-width="1.15" fill="none" />
<line x1="398" y1="873.5" x2="414.5" y2="873.5" stroke="#262626" stroke-width="0.8" />
<path d="M369.5,1006.9 H443.5 Q444.6,1009.7 443.5,1012.5 H369.5 Q368.4,1009.7 369.5,1006.9 Z" stroke="#262626" stroke-width="1.15" fill="none" />
<line x1="369" y1="1009.5" x2="444" y2="1009.5" stroke="#262626" stroke-width="1.2" />
<rect x="369.75" y="1012.5" width="73.75" height="13.1" rx="0" stroke="#262626" stroke-width="1.15" fill="none"/>
<path d="M369.75,1025.6 Q343,1029 335,1043.9" stroke="#262626" stroke-width="1.15" fill="none" />
<path d="M443.5,1025.6 Q470,1029 478.4,1043.9" stroke="#262626" stroke-width="1.15" fill="none" />
<rect x="318.4" y="1044" width="176.4" height="36" rx="0" stroke="#262626" stroke-width="1.15" fill="none"/>
<line x1="318.4" y1="1060" x2="494.8" y2="1060" stroke="#262626" stroke-width="1.4" />
<line x1="318.4" y1="1062.5" x2="494.8" y2="1062.5" stroke="#262626" stroke-width="1.4" />
<path d="M318.4,1080 V1098 H345.7 V1080" stroke="#262626" stroke-width="1.15" fill="none" />
<path d="M494.8,1080 V1098 H467.3 V1080" stroke="#262626" stroke-width="1.15" fill="none" />
<line x1="290.5" y1="1080" x2="290.5" y2="1198" stroke="#262626" stroke-width="1.0" />
<path d="M318.4,1068.6 H295.6" stroke="#262626" stroke-width="1.25" fill="none" />
<path d="M295.6,1068.6 C289.47,1075.40 289.47,1092.70 295.6,1099.5 C289.47,1109.22 289.47,1133.98 295.6,1143.7 C289.47,1150.54 289.47,1167.96 295.6,1174.8" stroke="#262626" stroke-width="1.15" fill="none" />
<path d="M343,1099.5 C349.13,1109.22 349.13,1133.98 343,1143.7 C349.13,1150.54 349.13,1167.96 343,1174.8" stroke="#262626" stroke-width="1.15" fill="none" />
<line x1="295.6" y1="1099.5" x2="343" y2="1099.5" stroke="#262626" stroke-width="1.15" />
<line x1="295.6" y1="1143.5" x2="343" y2="1143.5" stroke="#262626" stroke-width="1.15" />
<line x1="290.8" y1="1174.5" x2="343" y2="1174.5" stroke="#262626" stroke-width="1.15" />
<line x1="345.5" y1="1098" x2="345.5" y2="1119.7" stroke="#262626" stroke-width="1.15" />
<line x1="522.5" y1="1080" x2="522.5" y2="1198" stroke="#262626" stroke-width="1.0" />
<path d="M494.8,1068.6 H517.5" stroke="#262626" stroke-width="1.25" fill="none" />
<path d="M517.5,1068.6 C523.63,1075.40 523.63,1092.70 517.5,1099.5 C523.63,1109.22 523.63,1133.98 517.5,1143.7 C523.63,1150.54 523.63,1167.96 517.5,1174.8" stroke="#262626" stroke-width="1.15" fill="none" />
<path d="M470.5,1099.5 C464.37,1109.22 464.37,1133.98 470.5,1143.7 C464.37,1150.54 464.37,1167.96 470.5,1174.8" stroke="#262626" stroke-width="1.15" fill="none" />
<line x1="470.5" y1="1099.5" x2="517.5" y2="1099.5" stroke="#262626" stroke-width="1.15" />
<line x1="470.5" y1="1143.5" x2="517.5" y2="1143.5" stroke="#262626" stroke-width="1.15" />
<line x1="470.5" y1="1174.5" x2="522.3" y2="1174.5" stroke="#262626" stroke-width="1.15" />
<line x1="467.5" y1="1098" x2="467.5" y2="1119.7" stroke="#262626" stroke-width="1.15" />
<line x1="347.4" y1="1119.5" x2="466.5" y2="1119.5" stroke="#262626" stroke-width="1.15" />
<path d="M347.4,1119.7 Q406.5,1177.5 466.5,1119.7" stroke="#262626" stroke-width="1.15" fill="none" />
<line x1="347.4" y1="1167.5" x2="466.5" y2="1167.5" stroke="#262626" stroke-width="1.15" />
<line x1="283.9" y1="1121.5" x2="545.2" y2="1121.5" stroke="#262626" stroke-width="0.9" />
<line x1="543.5" y1="1121.4" x2="543.5" y2="1174.8" stroke="#262626" stroke-width="1.0" />
<path d="M543.6,1121.4 L545.3,1128.9 L541.9,1128.9 Z" fill="#262626" stroke="#262626" stroke-width="0.5"/>
<path d="M543.6,1174.8 L541.9,1167.3 L545.3,1167.3 Z" fill="#262626" stroke="#262626" stroke-width="0.5"/>
<line x1="522" y1="1174.5" x2="545.5" y2="1174.5" stroke="#262626" stroke-width="1.0" />
<text x="538.8" y="1147.9" font-size="18.5" text-anchor="middle" font-family="Liberation Sans" fill="#222" transform="rotate(-90 538.8 1147.9)" >D</text>
<line x1="290.8" y1="1195.5" x2="522.3" y2="1195.5" stroke="#262626" stroke-width="1.0" />
<path d="M290.8,1195.7 L298.3,1194 L298.3,1197.4 Z" fill="#262626" stroke="#262626" stroke-width="0.5"/>
<path d="M522.3,1195.7 L514.8,1197.4 L514.8,1194 Z" fill="#262626" stroke="#262626" stroke-width="0.5"/>
<text x="406.7" y="1191.4" font-size="19.5" text-anchor="middle" font-family="Liberation Sans" fill="#222" >A</text>
<text x="266.6" y="1013.9" font-size="20" text-anchor="middle" font-family="Liberation Sans" fill="#222" transform="rotate(-90 266.6 1013.9)" >C</text>
</svg>
</body></html>
